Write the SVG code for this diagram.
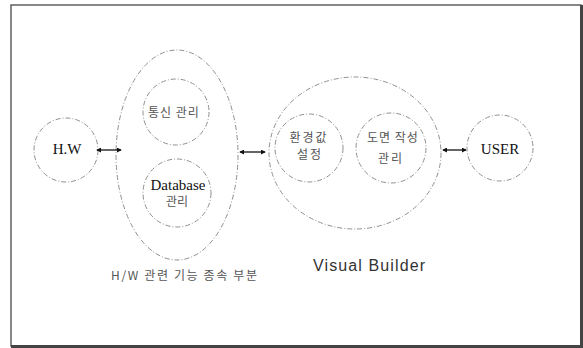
<svg xmlns="http://www.w3.org/2000/svg" width="583" height="348" viewBox="0 0 583 348">
  <style>
    .ring { fill: none; stroke: #8f8f8f; stroke-width: 1; stroke-dasharray: 5 2 1 2; }
    .serif { font-family: "Liberation Serif", "Times New Roman", serif; font-size: 15px; fill: #111; text-anchor: middle; }
    .kr { font-family: "Noto Sans CJK KR", "Noto Sans", sans-serif; font-size: 12px; fill: #555; text-anchor: middle; }
    .link { stroke: #111; stroke-width: 1.3; marker-start: url(#head); marker-end: url(#head); }
  </style>
  <defs>
    <marker id="head" viewBox="0 0 6 6" refX="5" refY="3" markerWidth="5" markerHeight="5" orient="auto-start-reverse" markerUnits="userSpaceOnUse">
      <path d="M0,0 L6,3 L0,6 Z" fill="#111"/>
    </marker>
  </defs>

  <rect width="583" height="348" fill="#fff"/>

  <!-- frame -->
  <g id="frame" fill="none">
    <rect x="11" y="5" width="570" height="341" stroke="#555" stroke-width="1.4"/>
    <line x1="581.5" y1="5" x2="581.5" y2="348" stroke="#444" stroke-width="3"/>
    <line x1="11" y1="346.5" x2="583" y2="346.5" stroke="#444" stroke-width="3"/>
  </g>

  <!-- hardware endpoint -->
  <g id="hw">
    <circle class="ring" cx="66" cy="150" r="32"/>
    <text class="serif" x="67" y="154">H.W</text>
  </g>

  <!-- hardware-dependent part -->
  <g id="hw-dependent">
    <ellipse class="ring" cx="177" cy="155" rx="61" ry="105"/>
    <text class="kr" x="184" y="280" font-size="10" fill="#888" textLength="146" lengthAdjust="spacing">H/W 관련 기능 종속 부분</text>
  </g>
  <g id="comm">
    <circle class="ring" cx="176" cy="112" r="33"/>
    <text class="kr" x="174" y="117" font-size="13" letter-spacing="1">통신 관리</text>
  </g>
  <g id="database">
    <circle class="ring" cx="177" cy="193" r="34"/>
    <text class="serif" x="178" y="190">Database</text>
    <text class="kr" x="177" y="206" font-size="13">관리</text>
  </g>

  <!-- visual builder -->
  <g id="visual-builder">
    <ellipse class="ring" cx="355" cy="153" rx="86" ry="76"/>
    <text x="369" y="271" font-family="Liberation Sans, Arial, sans-serif" font-size="16" fill="#333" text-anchor="middle" textLength="112" lengthAdjust="spacing">Visual Builder</text>
  </g>
  <g id="env">
    <circle class="ring" cx="309" cy="148" r="34"/>
    <text class="kr" x="309" y="142" font-size="11.5" letter-spacing="2">환경값</text>
    <text class="kr" x="310" y="159" font-size="11.5" letter-spacing="2">설정</text>
  </g>
  <g id="drawing">
    <circle class="ring" cx="391" cy="148" r="35"/>
    <text class="kr" x="393" y="142" letter-spacing="1">도면 작성</text>
    <text class="kr" x="391" y="163" letter-spacing="2">관리</text>
  </g>

  <!-- user endpoint -->
  <g id="user">
    <circle class="ring" cx="500" cy="148" r="33"/>
    <text class="serif" x="500" y="154">USER</text>
  </g>

  <!-- connectors -->
  <g id="connectors">
    <line class="link" x1="97" y1="150" x2="121" y2="150"/>
    <line class="link" x1="240" y1="152" x2="265" y2="152"/>
    <line class="link" x1="443" y1="150" x2="466" y2="150"/>
  </g>
</svg>
